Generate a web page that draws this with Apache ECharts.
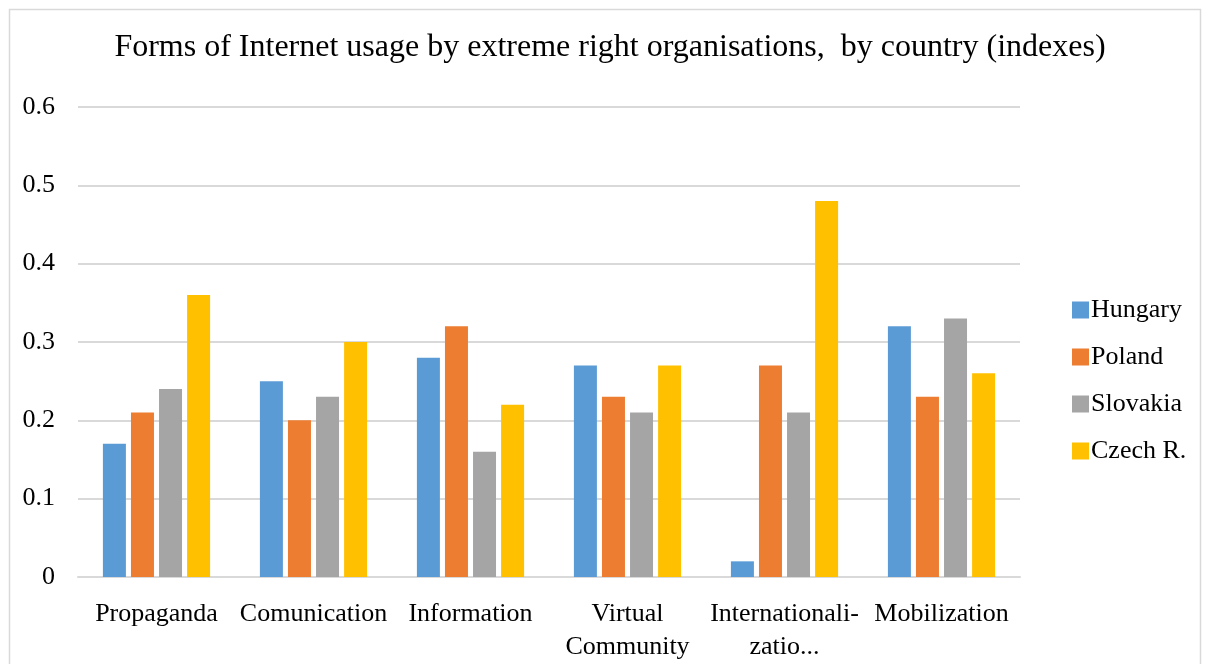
<!DOCTYPE html>
<html>
<head>
<meta charset="utf-8">
<script src="https://cdn.jsdelivr.net/npm/echarts@6/dist/echarts.min.js"></script>
<style>
  html, body { margin: 0; padding: 0; background: #fff; }
  #main { width: 1211px; height: 664px; }
</style>
</head>
<body>
<div id="main"></div>
<script>
// categories and values
var categories = ['Propaganda', 'Comunication', 'Information', 'Virtual\nCommunity', 'Internationali-\nzatio...', 'Mobilization'];
var hungary  = [0.17, 0.25, 0.28, 0.27, 0.02, 0.32];
var poland   = [0.21, 0.20, 0.32, 0.23, 0.27, 0.23];
var slovakia = [0.24, 0.23, 0.16, 0.21, 0.21, 0.33];
var czech    = [0.36, 0.30, 0.22, 0.27, 0.48, 0.26];

var font = 'Liberation Serif';

var myChart = echarts.init(document.getElementById('main'));

var option = {
    animation: false,
    textStyle: { fontFamily: font },
    graphic: [{
        type: 'rect',
        shape: { x: 9.5, y: 9.5, width: 1191, height: 700 },
        style: { fill: 'none', stroke: '#d9d9d9', lineWidth: 1.5 },
        z: -10
    }],
    title: {
        text: 'Forms of Internet usage by extreme right organisations,  by country (indexes)',
        left: 605,
        top: 27,
        textAlign: 'center',
        textStyle: { fontFamily: font, fontSize: 32, fontWeight: 'normal', color: '#000' }
    },
    legend: {
        orient: 'vertical',
        left: 1067,
        top: 292,
        itemWidth: 17,
        itemHeight: 17,
        itemGap: 21,
        icon: 'rect',
        textStyle: { fontFamily: font, fontSize: 26, color: '#000', padding: [0, 0, 0, -3] },
        data: ['Hungary', 'Poland', 'Slovakia', 'Czech R.']
    },
    grid: {
        left: 78,
        width: 942,
        top: 107,
        height: 476,
        containLabel: false
    },
    xAxis: {
        type: 'category',
        data: categories,
        axisLine: { lineStyle: { color: '#d9d9d9', width: 2 } },
        axisTick: { show: false },
        axisLabel: {
            fontFamily: font, fontSize: 26, color: '#000',
            margin: 21, lineHeight: 33, interval: 0
        }
    },
    yAxis: {
        type: 'value',
        min: 0,
        max: 0.6,
        interval: 0.1,
        axisLine: { show: false },
        axisTick: { show: false },
        splitLine: { lineStyle: { color: '#d9d9d9', width: 2 } },
        axisLabel: {
            fontFamily: font, fontSize: 26, color: '#000', margin: 23,
            formatter: function (v) { return v === 0 ? '0' : v.toFixed(1); }
        }
    },
    series: [
        { name: 'Hungary',  type: 'bar', data: hungary,  barWidth: 23, barGap: '22%', itemStyle: { color: '#5b9bd5' } },
        { name: 'Poland',   type: 'bar', data: poland,   barWidth: 23, barGap: '22%', itemStyle: { color: '#ed7d31' } },
        { name: 'Slovakia', type: 'bar', data: slovakia, barWidth: 23, barGap: '22%', itemStyle: { color: '#a5a5a5' } },
        { name: 'Czech R.', type: 'bar', data: czech,    barWidth: 23, barGap: '22%', itemStyle: { color: '#ffc000' } }
    ]
};

myChart.setOption(option);
</script>
</body>
</html>
